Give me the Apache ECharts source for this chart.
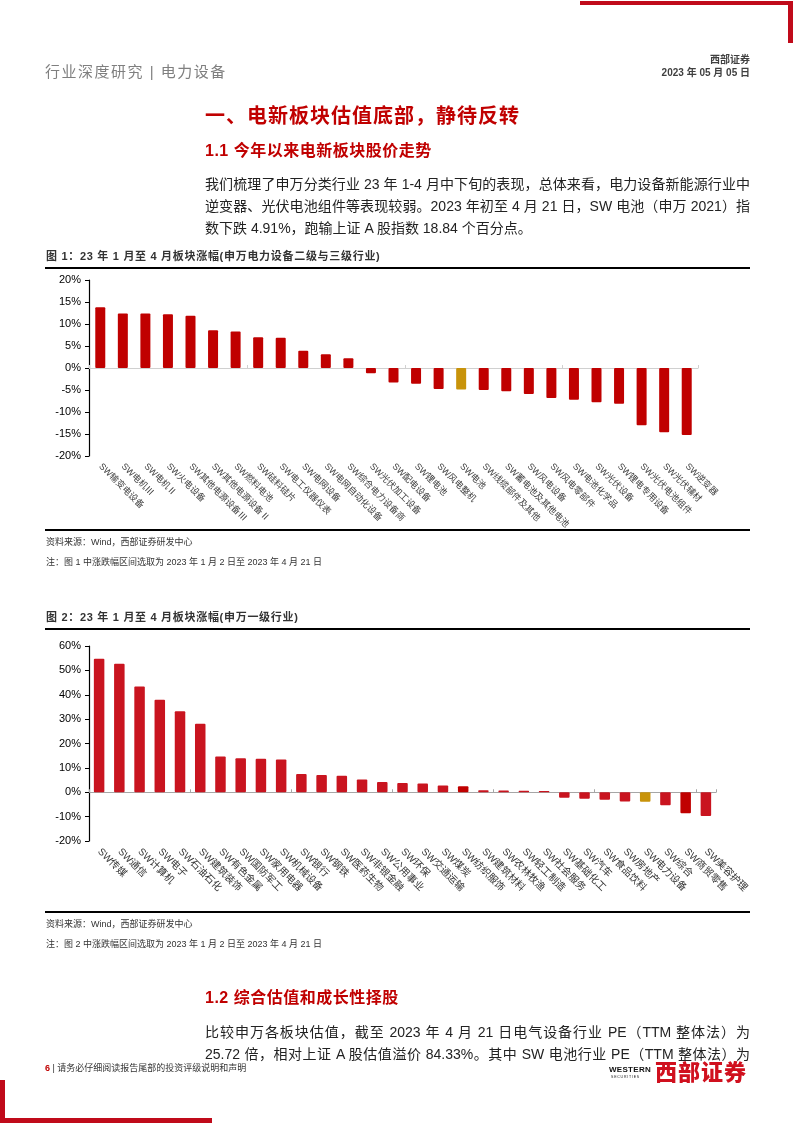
<!DOCTYPE html>
<html>
<head>
<meta charset="utf-8">
<script src="https://cdn.jsdelivr.net/npm/echarts@6/dist/echarts.min.js"></script>
<style>
  html, body { margin: 0; padding: 0; background: #fff; }
  #page { position: relative; width: 794px; height: 1123px; overflow: hidden; background: #fff;
          font-family: "Liberation Sans", "Noto Sans CJK SC", sans-serif; }
  #chart { position: absolute; left: 0; top: 0; width: 794px; height: 1123px; }
  .t { position: absolute; white-space: nowrap; line-height: 1; }
  .bar { position: absolute; background: #C00A1A; }
  .rule { position: absolute; left: 45px; width: 705px; height: 1.5px; background: #000; }
  .just { position: absolute; left: 205px; width: 545px; font-size: 14px; color: #222; line-height: 1;
          text-align: justify; text-align-last: justify; white-space: nowrap; }
  .red { color: #C00000; font-weight: bold; }
  .cap { font-size: 11px; color: #333; letter-spacing: 0.7px; font-weight: bold; }
  .src { font-size: 9px; color: #333; }
</style>
</head>
<body>
<div id="page">
  <div id="chart"></div>

  <!-- header -->
  <div class="bar" style="left:580px; top:1px; width:213px; height:4px;"></div>
  <div class="bar" style="left:788px; top:1px; width:5px; height:42px;"></div>
  <div class="t" style="left:45px; top:64px; font-size:15px; color:#7f7f7f; letter-spacing:1.5px;">行业深度研究 | 电力设备</div>
  <div class="t" style="right:44px; top:55px; font-size:10px; color:#404040; font-weight:bold;">西部证券</div>
  <div class="t" style="right:44px; top:68px; font-size:10px; color:#404040; font-weight:bold;">2023 年 05 月 05 日</div>

  <!-- headings / text -->
  <div class="t red" style="left:205px; top:106px; font-size:20px; letter-spacing:1px;">一、电新板块估值底部，静待反转</div>
  <div class="t red" style="left:205px; top:143px; font-size:16px; letter-spacing:0.5px;">1.1 今年以来电新板块股价走势</div>
  <div class="just" style="top:177px;">我们梳理了申万分类行业 23 年 1-4 月中下旬的表现，总体来看，电力设备新能源行业中</div>
  <div class="just" style="top:199px;">逆变器、光伏电池组件等表现较弱。2023 年初至 4 月 21 日，SW 电池（申万 2021）指</div>
  <div class="t" style="left:205px; top:221px; font-size:14px; color:#222;">数下跌 4.91%，跑输上证 A 股指数 18.84 个百分点。</div>

  <!-- figure 1 captions -->
  <div class="t cap" style="left:46px; top:251px;">图 1：23 年 1 月至 4 月板块涨幅(申万电力设备二级与三级行业)</div>
  <div class="rule" style="top:267px;"></div>
  <div class="rule" style="top:529px;"></div>
  <div class="t src" style="left:46px; top:538px;">资料来源：Wind，西部证券研发中心</div>
  <div class="t src" style="left:46px; top:558px;">注：图 1 中涨跌幅区间选取为 2023 年 1 月 2 日至 2023 年 4 月 21 日</div>

  <!-- figure 2 captions -->
  <div class="t cap" style="left:46px; top:612px;">图 2：23 年 1 月至 4 月板块涨幅(申万一级行业)</div>
  <div class="rule" style="top:628px;"></div>
  <div class="rule" style="top:911px;"></div>
  <div class="t src" style="left:46px; top:920px;">资料来源：Wind，西部证券研发中心</div>
  <div class="t src" style="left:46px; top:940px;">注：图 2 中涨跌幅区间选取为 2023 年 1 月 2 日至 2023 年 4 月 21 日</div>

  <!-- section 1.2 -->
  <div class="t red" style="left:205px; top:990px; font-size:16px; letter-spacing:0.5px;">1.2 综合估值和成长性择股</div>
  <div class="just" style="top:1025px;">比较申万各板块估值，截至 2023 年 4 月 21 日电气设备行业 PE（TTM 整体法）为</div>
  <div class="just" style="top:1047px;">25.72 倍，相对上证 A 股估值溢价 84.33%。其中 SW 电池行业 PE（TTM 整体法）为</div>

  <!-- footer -->
  <div class="t" style="left:45px; top:1064px; font-size:9px; color:#333;"><span style="color:#C00000;font-weight:bold;">6</span> | 请务必仔细阅读报告尾部的投资评级说明和声明</div>
  <div class="t" style="left:609px; top:1066px; font-size:8px; font-weight:bold; color:#111; letter-spacing:0.3px;">WESTERN</div>
  <div class="t" style="left:611px; top:1076px; font-size:3.5px; color:#111; letter-spacing:0.8px;">SECURITIES</div>
  <div class="t" style="left:655px; top:1062px; font-size:22px; font-weight:900; color:#D0101E; letter-spacing:1px;">西部证券</div>
  <div class="bar" style="left:0px; top:1080px; width:5px; height:43px;"></div>
  <div class="bar" style="left:0px; top:1118px; width:212px; height:5px;"></div>
</div>

<script>
// ---------- data ----------
const categories1 = ['SW输变电设备','SW电机Ⅲ','SW电机Ⅱ','SW火电设备','SW其他电源设备Ⅲ','SW其他电源设备Ⅱ','SW燃料电池','SW硅料硅片','SW电工仪器仪表','SW电网设备','SW电网自动化设备','SW综合电力设备商','SW光伏加工设备','SW配电设备','SW锂电池','SW风电整机','SW电池','SW线缆部件及其他','SW蓄电池及其他电池','SW风电设备','SW风电零部件','SW电池化学品','SW光伏设备','SW锂电专用设备','SW光伏电池组件','SW光伏辅材','SW逆变器'];
const values1 = [13.8, 12.4, 12.4, 12.2, 11.9, 8.6, 8.3, 7.0, 6.9, 3.9, 3.1, 2.2, -1.2, -3.3, -3.6, -4.8, -4.91, -5.0, -5.3, -5.9, -6.8, -7.2, -7.8, -8.1, -13.0, -14.6, -15.2];

const categories2 = ['SW传媒','SW通信','SW计算机','SW电子','SW石油石化','SW建筑装饰','SW有色金属','SW国防军工','SW家用电器','SW机械设备','SW银行','SW钢铁','SW医药生物','SW非银金融','SW公用事业','SW环保','SW交通运输','SW煤炭','SW纺织服饰','SW建筑材料','SW农林牧渔','SW轻工制造','SW社会服务','SW基础化工','SW汽车','SW食品饮料','SW房地产','SW电力设备','SW综合','SW商贸零售','SW美容护理'];
const values2 = [54.8, 52.7, 43.4, 37.9, 33.2, 28.1, 14.7, 14.0, 13.7, 13.4, 7.5, 7.1, 6.8, 5.2, 4.2, 3.8, 3.6, 2.8, 2.5, 0.8, 0.7, 0.6, 0.5, -2.3, -2.7, -3.1, -3.8, -3.9, -5.3, -8.6, -9.7];

const yTicks1 = { min: -20, max: 20, interval: 5 };
const yTicks2 = { min: -20, max: 60, interval: 10 };

// ---------- styles ----------
const highlight1 = 'SW电池';
const highlight2 = 'SW电力设备';
const darker2 = ['SW纺织服饰', 'SW商贸零售'];
const GOLD = '#C8930A';

const chart = echarts.init(document.getElementById('chart'), null, { renderer: 'canvas' });

function yAxisCfg(grid, t) {
  return {
    type: 'value', gridIndex: grid, min: t.min, max: t.max, interval: t.interval,
    axisLine: { show: true, lineStyle: { color: '#000', width: 1.2 } },
    axisTick: { show: true, inside: false, length: 4, lineStyle: { color: '#000' } },
    splitLine: { show: false },
    axisLabel: { formatter: '{value}%', color: '#000', fontSize: 11, margin: 8,
                 fontFamily: '"Liberation Sans", Arial, sans-serif' }
  };
}
function labelAxis(grid, cats, fs, color) {
  return {
    type: 'category', gridIndex: grid, data: cats, position: 'bottom',
    axisLine: { show: false, onZero: false }, axisTick: { show: false },
    axisLabel: { interval: 0, rotate: -45, fontSize: fs, color: color, margin: 9,
                 fontFamily: '"Liberation Sans", "Noto Sans CJK SC", sans-serif' }
  };
}
function zeroAxis(grid, cats, lineColor) {
  return {
    type: 'category', gridIndex: grid, data: cats, position: 'bottom',
    axisLine: { show: true, onZero: true, lineStyle: { color: lineColor, width: 1.2 } },
    axisTick: { show: true, inside: true, length: 3, lineStyle: { color: lineColor } },
    axisLabel: { show: false }
  };
}

chart.setOption({
  animation: false,
  grid: [
    { left: 89, right: 96, top: 280, bottom: 667, containLabel: false },
    { left: 89, right: 78, top: 646, bottom: 282, containLabel: false }
  ],
  xAxis: [
    labelAxis(0, categories1, 9, '#404040'),
    zeroAxis(0, categories1, '#d0d0d0'),
    labelAxis(1, categories2, 10, '#333'),
    zeroAxis(1, categories2, '#a6a6a6')
  ],
  yAxis: [ yAxisCfg(0, yTicks1), yAxisCfg(1, yTicks2) ],
  series: [
    {
      type: 'bar', xAxisIndex: 0, yAxisIndex: 0, barWidth: 10, z: 1,
      data: values1.map((v, i) => ({
        value: v,
        itemStyle: { color: categories1[i] === highlight1 ? GOLD : '#C00000', borderRadius: 1 }
      }))
    },
    {
      type: 'bar', xAxisIndex: 2, yAxisIndex: 1, barWidth: 10.5, z: 1,
      data: values2.map((v, i) => ({
        value: v,
        itemStyle: {
          color: categories2[i] === highlight2 ? GOLD : (darker2.includes(categories2[i]) ? '#C00000' : '#C9141F'),
          borderRadius: 1
        }
      }))
    }
  ]
});
</script>
</body>
</html>
